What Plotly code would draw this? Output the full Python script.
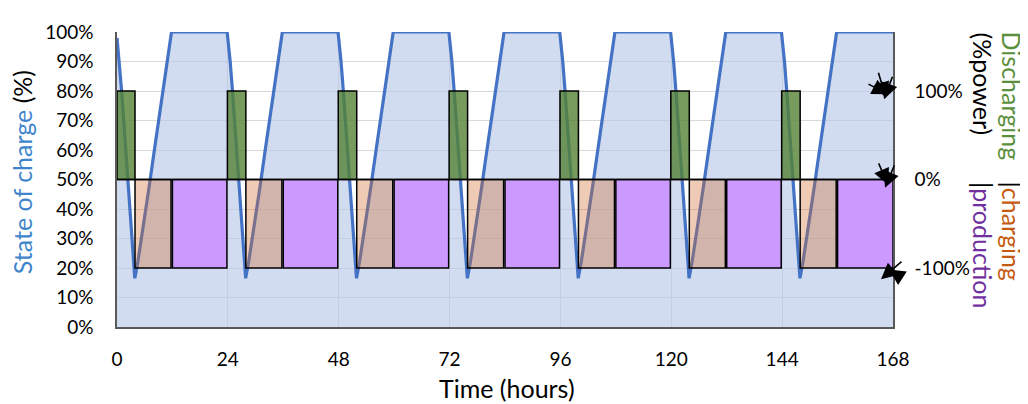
import plotly.graph_objects as go

# ---------------- data ----------------
day_starts = [0, 24, 48, 72, 96, 120, 144]

# state of charge, one daily profile (hours after day start, %)
soc_profile_hours = [0.0, 0.5, 1.0, 1.5, 2.0, 2.5, 3.0, 3.5, 3.85, 4.5, 5.0,
                     6.0, 7.0, 8.0, 9.0, 10.0, 11.0, 11.8, 23.85]
soc_profile_values = [98, 90, 80, 69, 58, 47, 35, 23, 16.5, 22, 27,
                      37, 48, 59, 70, 81, 91, 100, 100]
soc_final_hour = 168
soc_final_value = 100

# power intervals (hours) and levels (% power)
discharge_start = [0, 23.9, 47.9, 71.9, 95.9, 119.9, 143.9]
discharge_end = [3.9, 27.9, 51.9, 75.9, 99.9, 123.9, 147.9]
charge_start = [3.9, 27.9, 51.9, 75.9, 99.9, 123.9, 147.9]
charge_end = [11.7, 35.7, 59.7, 83.7, 107.7, 131.7, 155.7]
production_start = [12.0, 36.0, 60.0, 84.0, 108.0, 132.0, 156.0]
production_end = [23.8, 47.8, 71.8, 95.8, 119.8, 143.8, 168.0]
discharge_power = 100
charge_power = -100
production_power = -100

x_ticks = [0, 24, 48, 72, 96, 120, 144, 168]
soc_ticks = [0, 10, 20, 30, 40, 50, 60, 70, 80, 90, 100]
soc_tick_labels = ["0%", "10%", "20%", "30%", "40%", "50%", "60%", "70%",
                   "80%", "90%", "100%"]
power_ticks = [-100, 0, 100]
power_tick_labels = ["-100%", "0%", "100%"]

# ---------------- build series ----------------
soc_x, soc_y = [], []
for d in day_starts:
    for h, v in zip(soc_profile_hours, soc_profile_values):
        soc_x.append(d + h)
        soc_y.append(v)
soc_x.append(soc_final_hour)
soc_y.append(soc_final_value)


def boxes(starts, ends, level):
    xs, ys = [], []
    for s, e in zip(starts, ends):
        xs += [s, s, e, e, s, None]
        ys += [0, level, level, 0, 0, None]
    return xs, ys


FONT = "Lato"
BLUE_LINE = "#4472C4"

fig = go.Figure()

fig.add_trace(go.Scatter(
    x=soc_x, y=soc_y, mode="lines", fill="tozeroy",
    fillcolor="rgba(180,199,231,0.62)",
    line=dict(color=BLUE_LINE, width=3.2), yaxis="y", showlegend=False,
    hoverinfo="skip"))

ox, oy = boxes(charge_start, charge_end, charge_power)
fig.add_trace(go.Scatter(
    x=ox, y=oy, mode="lines", fill="toself",
    fillcolor="rgba(210,110,50,0.36)",
    line=dict(color="black", width=1.5), yaxis="y2", showlegend=False))

px_, py_ = boxes(production_start, production_end, production_power)
fig.add_trace(go.Scatter(
    x=px_, y=py_, mode="lines", fill="toself",
    fillcolor="rgb(204,153,255)",
    line=dict(color="black", width=1.5), yaxis="y2", showlegend=False))

gx, gy = boxes(discharge_start, discharge_end, discharge_power)
fig.add_trace(go.Scatter(
    x=gx, y=gy, mode="lines", fill="toself",
    fillcolor="rgba(84,130,53,0.80)",
    line=dict(color="black", width=1.5), yaxis="y2", showlegend=False))

fig.add_trace(go.Scatter(
    x=[x_ticks[0], x_ticks[-1]], y=[0, 0], mode="lines",
    line=dict(color="black", width=1.5), yaxis="y2", showlegend=False))

# ---------------- layout ----------------
OFF = 8  # page body margin
L, R, T, B = 117, 893, 24, 327  # plot area in page pixels
W, H = 1028 - OFF, 404 - OFF


def pxp(px):
    return (px - L) / (R - L)


def pyp(py):
    return (B - py) / (B - T)


axis_line = "#595959"
grid = "#D9D9D9"

fig.update_layout(
    width=W, height=H,
    margin=dict(l=L - OFF, r=W - (R - OFF), t=T - OFF, b=H - (B - OFF)),
    plot_bgcolor="white", paper_bgcolor="white",
    font=dict(family=FONT, size=19, color="black"),
    xaxis=dict(range=[0, 168], tickvals=x_ticks, showgrid=True,
               gridcolor=grid, gridwidth=1, showline=True,
               linecolor=axis_line, linewidth=1.5, zeroline=False,
               ticks="", ticklabelstandoff=14,
               tickfont=dict(family=FONT, size=19)),
    yaxis=dict(range=[0, 100], tickvals=soc_ticks, ticktext=soc_tick_labels,
               showgrid=True, gridcolor=grid, gridwidth=1, showline=True,
               linecolor=axis_line, linewidth=1.5, zeroline=False,
               ticks="", ticklabelstandoff=18,
               tickfont=dict(family=FONT, size=19)),
    yaxis2=dict(range=[-500 / 3, 500 / 3], tickvals=power_ticks,
                ticktext=power_tick_labels, overlaying="y", side="right",
                showgrid=False, showline=True, linecolor=axis_line,
                linewidth=1.5, zeroline=False, ticks="",
                ticklabelstandoff=16,
                tickfont=dict(family=FONT, size=19)),
)

ann = []
# axis titles
ann.append(dict(x=pxp(507), y=pyp(390), xref="paper", yref="paper",
                text="Time (hours)", showarrow=False,
                font=dict(family=FONT, size=25, color="black"),
                xanchor="center", yanchor="middle"))
ann.append(dict(x=pxp(22), y=pyp(168), xref="paper", yref="paper",
                text="<span style='color:#3F85CC'>State of charge</span> (%)",
                showarrow=False, textangle=-90,
                font=dict(family=FONT, size=25, color="black"),
                xanchor="center", yanchor="middle"))
ann.append(dict(x=pxp(1012), y=pyp(22), xref="paper", yref="paper",
                text="Discharging", showarrow=False, textangle=90,
                font=dict(family=FONT, size=25, color="#5A8F3C"),
                xanchor="center", yanchor="top"))
ann.append(dict(x=pxp(1012), y=pyp(176), xref="paper", yref="paper",
                text="|<span style='color:#C55A11'>charging</span>",
                showarrow=False, textangle=90,
                font=dict(family=FONT, size=25, color="black"),
                xanchor="center", yanchor="top"))
ann.append(dict(x=pxp(983), y=pyp(22), xref="paper", yref="paper",
                text="(%power)", showarrow=False, textangle=90,
                font=dict(family=FONT, size=25, color="black"),
                xanchor="center", yanchor="top"))
ann.append(dict(x=pxp(983), y=pyp(176), xref="paper", yref="paper",
                text="|<span style='color:#7030A0'>production</span>",
                showarrow=False, textangle=90,
                font=dict(family=FONT, size=25, color="black"),
                xanchor="center", yanchor="top"))

# stray arrow marks next to the right-hand ticks
arrows = [
    (888, 88, -21, -11), (886, 92, -8, -27), (884, 93, 9, -24),
    (888, 181, -10, -23), (885, 184, 10, -24),
    (881, 278, 22, -19), (889, 268, 14, 9),
]
for hx, hy, ax, ay in arrows:
    ann.append(dict(x=pxp(hx), y=pyp(hy), xref="paper", yref="paper",
                    ax=ax, ay=ay, text="", showarrow=True, arrowhead=2,
                    arrowsize=2, arrowwidth=1.6, arrowcolor="black"))

fig.update_layout(annotations=ann)

fig.write_html("out.html")
